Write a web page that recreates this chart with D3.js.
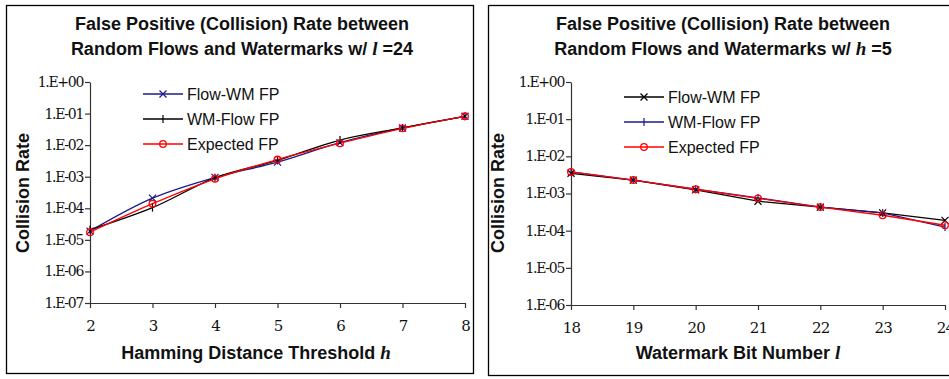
<!DOCTYPE html>
<html><head><meta charset="utf-8">
<script src="https://cdn.jsdelivr.net/npm/d3@7/dist/d3.min.js"></script>
<style>body{margin:0;background:#fff}svg{display:block}</style>
</head><body>
<svg id="c" width="949" height="379"></svg>
<script>
// Left chart: vs Hamming distance threshold h (l = 24)
const hValues = [2, 3, 4, 5, 6, 7, 8];
const leftFlowWM   = [1.9e-5, 2.1e-4, 9.5e-4, 2.9e-3, 1.2e-2, 3.5e-2, 8.2e-2];
const leftWMFlow   = [2.1e-5, 1.05e-4, 9.2e-4, 3.3e-3, 1.45e-2, 3.5e-2, 8.2e-2];
const leftExpected = [1.75e-5, 1.4e-4, 8.6e-4, 3.5e-3, 1.15e-2, 3.4e-2, 8.2e-2];
const leftYTicks = [1e-7, 1e-6, 1e-5, 1e-4, 1e-3, 1e-2, 1e-1, 1];

// Right chart: vs watermark bit number l (h = 5)
const lValues = [18, 19, 20, 21, 22, 23, 24];
const rightFlowWM   = [3.5e-3, 2.3e-3, 1.25e-3, 6.2e-4, 4.3e-4, 3.0e-4, 1.9e-4];
const rightWMFlow   = [3.8e-3, 2.3e-3, 1.3e-3, 7.6e-4, 4.3e-4, 3.0e-4, 1.25e-4];
const rightExpected = [3.8e-3, 2.3e-3, 1.3e-3, 7.4e-4, 4.3e-4, 2.6e-4, 1.4e-4];
const rightYTicks = [1e-6, 1e-5, 1e-4, 1e-3, 1e-2, 1e-1, 1];

const legendNames = ["Flow-WM FP", "WM-Flow FP", "Expected FP"];

const NAVY = "#1a1a8c", BLACK = "#000", RED = "#ff0000";
const svg = d3.select("#c");

function fmtExp(v){
  const e = Math.round(Math.log10(v));
  return "1.E" + (e >= 0 ? "+" : "-") + String(Math.abs(e)).padStart(2, "0");
}

function marker(g, type, x, y, color){
  const s = 3.5;
  if (type === "x") {
    g.append("path").attr("d", `M${x-s},${y-s}L${x+s},${y+s}M${x-s},${y+s}L${x+s},${y-s}`)
      .attr("stroke", color).attr("stroke-width", 1.2).attr("fill", "none");
  } else if (type === "+") {
    g.append("path").attr("d", `M${x},${y-s-0.5}L${x},${y+s+0.5}`)
      .attr("stroke", color).attr("stroke-width", 1.2).attr("fill", "none");
  } else {
    g.append("circle").attr("cx", x).attr("cy", y).attr("r", 3.3)
      .attr("stroke", color).attr("stroke-width", 1.3).attr("fill", "none");
  }
}

function panel(opt){
  const g = svg.append("g");
  g.append("rect").attr("x", opt.box[0]+0.5).attr("y", opt.box[1]+0.5)
    .attr("width", opt.box[2]).attr("height", opt.box[3])
    .attr("fill", "#fff").attr("stroke", "#000").attr("stroke-width", 1.3);

  const x = d3.scaleLinear().domain(d3.extent(opt.xs)).range([opt.x0, opt.x1]);
  const y = d3.scaleLog().domain([opt.yTicks[0], opt.yTicks[opt.yTicks.length-1]]).range([opt.y0, opt.y1]);

  const ya = g.append("g").attr("transform", `translate(${opt.x0},0)`)
    .call(d3.axisLeft(y).tickValues(opt.yTicks).tickFormat(fmtExp).tickSize(5).tickSizeOuter(0));
  ya.selectAll("text").attr("font-family", "DejaVu Serif").attr("font-size", 14)
    .attr("letter-spacing", "-1.3").attr("fill", "#111").attr("x", -7);
  const xa = g.append("g").attr("transform", `translate(0,${opt.y0})`)
    .call(d3.axisBottom(x).tickValues(opt.xs).tickFormat(d3.format("d")).tickSize(5).tickSizeOuter(0));
  xa.selectAll("text").attr("font-family", "DejaVu Serif").attr("font-size", 15)
    .attr("letter-spacing", "-0.8").attr("fill", "#111").attr("dy", "1.35em");
  g.selectAll(".domain, .tick line").attr("stroke", "#333").attr("stroke-width", 1.2);

  // title
  const t = g.append("text").attr("text-anchor", "middle").attr("font-family", "Liberation Sans")
    .attr("font-weight", "bold").attr("font-size", 18).attr("fill", "#111");
  t.append("tspan").attr("x", opt.tx).attr("y", 30).text("False Positive (Collision) Rate between");
  t.append("tspan").attr("x", opt.tx).attr("y", 55).text("Random Flows and Watermarks w/ ");
  t.append("tspan").attr("font-family", "Liberation Serif").attr("font-style", "italic").attr("font-size", 19).text(opt.varName);
  t.append("tspan").text(" =" + opt.varVal);

  // axis titles
  const xt = g.append("text").attr("text-anchor", "middle").attr("font-family", "Liberation Sans")
    .attr("font-weight", "bold").attr("font-size", 18).attr("fill", "#111")
    .attr("x", opt.xtx).attr("y", 359);
  xt.append("tspan").text(opt.xTitle + " ");
  xt.append("tspan").attr("font-family", "Liberation Serif").attr("font-style", "italic").attr("font-size", 19).text(opt.xVar);

  g.append("text").attr("text-anchor", "middle").attr("font-family", "Liberation Sans")
    .attr("font-weight", "bold").attr("font-size", 18).attr("fill", "#111")
    .attr("transform", `translate(${opt.ytx},${opt.yty}) rotate(-90)`).text("Collision Rate");

  // series
  const line = d3.line().x((d,i) => x(opt.xs[i])).y(d => y(d)).curve(opt.curve);
  opt.series.forEach(s => {
    g.append("path").datum(s.values).attr("d", line).attr("fill", "none")
      .attr("stroke", s.color).attr("stroke-width", 1.3);
  });
  opt.series.forEach(s => {
    s.values.forEach((v,i) => marker(g, s.mark, x(opt.xs[i]), y(v), s.color));
  });

  // legend
  opt.series.forEach((s,i) => {
    const ly = opt.ly + i*opt.lgap;
    g.append("line").attr("x1", opt.lx).attr("x2", opt.lx+40).attr("y1", ly).attr("y2", ly)
      .attr("stroke", s.color).attr("stroke-width", 1.3);
    marker(g, s.mark, opt.lx+20, ly, s.color);
    g.append("text").attr("x", opt.lx+44).attr("y", ly+5.5).attr("font-family", "Liberation Sans")
      .attr("font-size", 16).attr("fill", "#111").text(legendNames[i]);
  });
}

panel({
  box: [6, 5, 467, 368], xs: hValues, yTicks: leftYTicks,
  x0: 90, x1: 465, y0: 303, y1: 82, tx: 242, varName: "l", varVal: "24",
  xTitle: "Hamming Distance Threshold", xVar: "h", xtx: 256, ytx: 29, yty: 193,
  curve: d3.curveCatmullRom.alpha(0.5),
  lx: 143, ly: 94, lgap: 25,
  series: [
    {values: leftFlowWM, color: NAVY, mark: "x"},
    {values: leftWMFlow, color: BLACK, mark: "+"},
    {values: leftExpected, color: RED, mark: "o"}
  ]
});

panel({
  box: [488, 5, 480, 370], xs: lValues, yTicks: rightYTicks,
  x0: 571, x1: 945, y0: 305, y1: 82, tx: 723, varName: "h", varVal: "5",
  xTitle: "Watermark Bit Number", xVar: "l", xtx: 738, ytx: 504, yty: 193,
  curve: d3.curveLinear,
  lx: 624, ly: 97, lgap: 25,
  series: [
    {values: rightFlowWM, color: BLACK, mark: "x"},
    {values: rightWMFlow, color: NAVY, mark: "+"},
    {values: rightExpected, color: RED, mark: "o"}
  ]
});
</script>
</body></html>
